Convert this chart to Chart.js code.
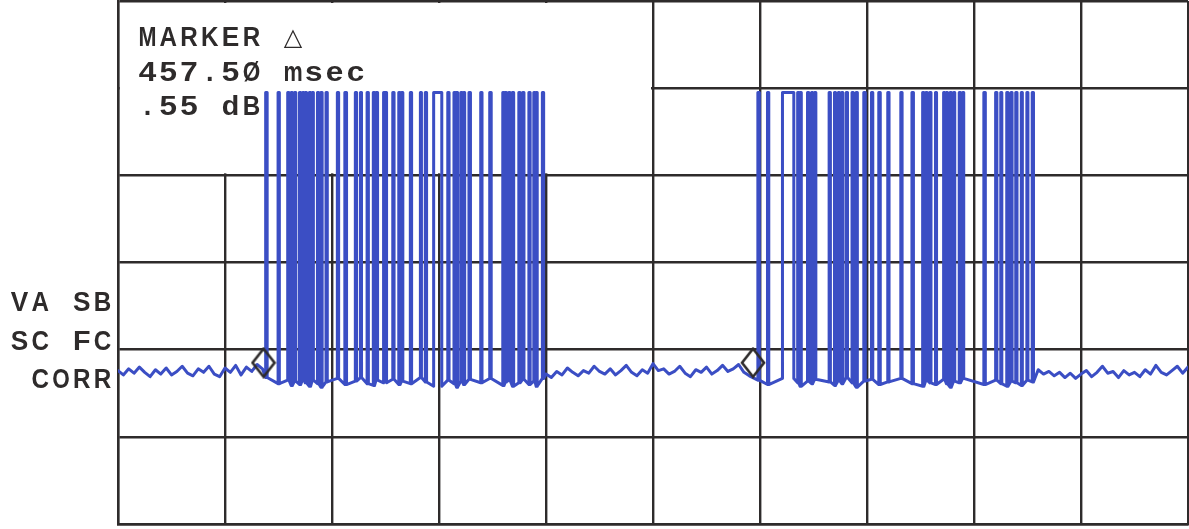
<!DOCTYPE html>
<html>
<head>
<meta charset="utf-8">
<script src="https://cdn.jsdelivr.net/npm/chart.js@4.4.1/dist/chart.umd.min.js"></script>
<style>
  html, body { margin: 0; padding: 0; background: #fff; }
  canvas { display: block; }
</style>
</head>
<body>
<canvas id="trace" width="1189" height="529"></canvas>
<script>
// ==================== DATA ====================
// sweep: 0..1000 msec (100 msec/div), amplitude in dB (10 dB/div, ref at top)
const X_MIN = 0, X_MAX = 1000, X_STEP = 100;
const Y_MIN = -60, Y_MAX = 0, Y_STEP = 10;

const PULSE_TOP = -10.5;

// noise floor segments, one sample every NOISE_STEP msec
const NOISE_STEP = 5;
const noiseAStart = 0;
const noiseA = [-42.4, -42.9, -42.2, -42.7, -42.0, -42.6, -43.1, -42.3, -42.8, -42.1,
                -42.9, -42.5, -41.9, -42.7, -43.0, -42.2, -42.6, -41.9, -42.8, -43.1,
                -42.1, -42.6, -41.8, -42.9, -42.0, -42.5, -41.7, -42.2];
const noiseBStart = 400;
const noiseB = [-42.8, -43.2, -42.5, -42.9, -42.1, -42.6, -43.0, -42.4, -42.7, -41.9,
                -42.5, -42.8, -42.2, -42.9, -42.4, -41.8, -42.6, -43.0, -42.3, -42.7,
                -41.6, -42.4, -42.2, -42.8, -42.5, -41.9, -42.7, -43.1, -42.3, -42.6,
                -42.0, -42.8, -42.4, -41.8, -42.5, -42.2, -41.7, -42.6, -43.0];
const noiseCStart = 860;
const noiseC = [-42.3, -42.8, -42.5, -43.0, -42.6, -43.2, -42.7, -43.3, -42.8, -42.4,
                -43.1, -42.6, -41.9, -42.7, -42.5, -43.2, -42.4, -42.9, -42.6, -43.1,
                -42.3, -42.8, -41.8, -42.6, -42.9, -42.4, -41.9, -42.7, -42.0];

// pulse bursts: on / off times (msec) and the level between pulses (dB)
const burst1On  = [138.0, 149.6, 158.6, 161.8, 165.0, 169.6, 172.6, 175.0, 178.8, 181.6,
                   186.4, 189.6, 194.4, 205.0, 212.0, 221.8, 226.6, 232.8, 238.6, 241.2,
                   248.2, 256.8, 262.4, 265.0, 273.2, 282.6, 287.2, 295.0, 308.2, 314.0,
                   316.4, 320.4, 323.0, 328.0, 339.0, 347.4, 359.6, 362.0, 365.2, 368.6,
                   374.6, 378.2, 384.0, 388.6, 390.8, 396.6];
const burst1Off = [139.4, 150.8, 159.8, 163.0, 166.2, 170.8, 173.6, 176.2, 180.0, 182.6,
                   187.6, 190.8, 195.6, 206.2, 213.6, 223.0, 227.6, 234.0, 239.8, 242.6,
                   251.0, 258.0, 263.6, 266.2, 274.4, 283.6, 288.4, 302.6, 309.4, 315.2,
                   317.4, 321.6, 324.0, 329.4, 340.2, 348.8, 360.8, 363.0, 366.4, 369.8,
                   375.8, 379.4, 385.2, 389.6, 391.8, 397.8];
const burst1Low = [-43.2, -43.9, -43.5, -44.1, -43.6, -44.0, -43.4, -43.8, -44.2, -43.5,
                   -43.9, -44.3, -43.7, -43.3, -44.0, -43.6, -43.2, -43.9, -44.1, -43.5,
                   -43.8, -43.4, -44.0, -43.6, -43.9, -43.2, -43.7, -44.2, -43.5, -43.9,
                   -44.3, -43.6, -44.0, -43.4, -43.8, -43.3, -44.1, -43.7, -43.5, -44.2,
                   -43.8, -43.4, -44.0, -43.6, -44.2, -43.3];
const burst2On  = [598.0, 607.0, 621.0, 635.2, 637.4, 644.4, 648.2, 651.0, 664.6, 669.6,
                   673.2, 676.4, 680.6, 686.0, 689.8, 697.0, 704.2, 711.0, 719.4, 731.6,
                   742.0, 752.0, 755.0, 758.6, 764.0, 771.6, 774.2, 777.6, 781.0, 786.2,
                   789.4, 809.2, 820.2, 825.0, 830.6, 834.6, 839.0, 844.2, 849.4, 854.4];
const burst2Off = [599.4, 608.2, 631.6, 636.2, 638.6, 645.6, 649.2, 652.2, 665.8, 670.6,
                   674.2, 677.4, 681.8, 687.2, 691.0, 698.4, 705.4, 712.4, 720.6, 732.8,
                   743.4, 753.2, 756.2, 759.8, 765.0, 772.6, 775.2, 778.8, 782.0, 787.4,
                   790.4, 810.6, 821.4, 826.0, 831.8, 835.6, 840.2, 845.2, 850.4, 855.6];
const burst2Low = [-43.5, -44.0, -43.3, -43.8, -44.2, -43.6, -43.9, -43.4, -43.7, -44.1,
                   -43.5, -43.9, -43.2, -43.8, -44.3, -43.6, -43.4, -44.0, -43.7, -43.3,
                   -43.9, -44.2, -43.5, -43.8, -44.0, -43.4, -43.9, -44.3, -43.6, -43.8,
                   -43.3, -44.0, -43.5, -43.9, -44.2, -43.6, -43.8, -44.1, -43.5, -43.7];

// delta markers
const markerX = [136.0, 593.5];
const markerY = [-41.5, -41.5];

// annotation text
const markerLines = ['MARKER \u25B3', '457.5\u00D8 msec', '.55 dB'];
const sideLines = ['VA SB', 'SC FC', 'CORR'];

// ==================== BUILD TRACE ====================
function noisePoints(start, vals) {
    return vals.map((v, i) => ({ x: start + i * NOISE_STEP, y: v }));
}

function burstPoints(on, off, low) {
    const pts = [];
    on.forEach((t, i) => {
        pts.push({ x: t, y: low[i] });
        pts.push({ x: t, y: PULSE_TOP });
        pts.push({ x: off[i], y: PULSE_TOP });
        pts.push({ x: off[i], y: low[i] });
    });
    return pts;
}

const tracePoints = [
    ...noisePoints(noiseAStart, noiseA),
    ...burstPoints(burst1On, burst1Off, burst1Low),
    ...noisePoints(noiseBStart, noiseB),
    ...burstPoints(burst2On, burst2Off, burst2Low),
    ...noisePoints(noiseCStart, noiseC)
];

// diamond marker image
const INK = '#2e2b2b';
const diamond = document.createElement('canvas');
diamond.width = 26;
diamond.height = 32;
(function() {
    const c = diamond.getContext('2d');
    c.strokeStyle = INK;
    c.lineWidth = 2.6;
    c.beginPath();
    c.moveTo(13, 2);
    c.lineTo(24, 16);
    c.lineTo(13, 30);
    c.lineTo(2, 16);
    c.closePath();
    c.stroke();
})();

// ==================== PLUGINS ====================
// blank the annotation box in the top-left of the graticule
const blankBox = {
    id: 'blankBox',
    beforeDatasetsDraw(chart) {
        const { ctx, scales: { x, y } } = chart;
        const l = x.getPixelForValue(0) + 2;
        const r = x.getPixelForValue(500) - 2;
        const t = y.getPixelForValue(0) + 2;
        const b = y.getPixelForValue(-20) - 2;
        ctx.save();
        ctx.fillStyle = '#fff';
        ctx.fillRect(l, t, r - l, b - t);
        ctx.restore();
    }
};

// plotter-like fixed pitch text
function drawMono(ctx, text, left, baseline, pitch) {
    for (let i = 0; i < text.length; i++) {
        const ch = text[i];
        if (ch === ' ') continue;
        const w = ctx.measureText(ch).width;
        let sx = 1;
        if (/[A-Za-z0-9\u00D8]/.test(ch)) sx = Math.min(1.3, Math.max(0.8, 17.5 / w));
        ctx.save();
        ctx.translate(left + i * pitch + pitch / 2, baseline);
        ctx.scale(sx, 1);
        ctx.fillText(ch, 0, 0);
        ctx.restore();
    }
}

const FONT = 'bold 27px "Liberation Sans", "DejaVu Sans", sans-serif';

const labels = {
    id: 'labels',
    afterDraw(chart) {
        const { ctx } = chart;
        const pitch = 20.8;
        ctx.save();
        ctx.fillStyle = INK;
        ctx.textAlign = 'center';
        ctx.textBaseline = 'alphabetic';
        ctx.font = FONT;
        const bases = [46, 81, 115];
        markerLines.forEach((s, i) => {
            if (s.indexOf('\u25B3') >= 0) {
                drawMono(ctx, s.replace('\u25B3', ''), 137, bases[i], pitch);
                ctx.font = 'bold 24px "DejaVu Sans", sans-serif';
                ctx.fillText('\u25B3', 137 + 7 * pitch + pitch / 2, bases[i] - 1);
                ctx.font = FONT;
            } else {
                drawMono(ctx, s, 137, bases[i], pitch);
            }
        });
        const sideBases = [311, 350, 388];
        sideLines.forEach((s, i) => {
            drawMono(ctx, s, 113 - s.length * pitch, sideBases[i], pitch);
        });
        ctx.restore();
    }
};

// ==================== CHART ====================
const gridStyle = {
    color: INK,
    lineWidth: 2.4,
    drawTicks: false
};

new Chart(document.getElementById('trace'), {
    type: 'line',
    data: {
        datasets: [
            {
                data: markerX.map((v, i) => ({ x: v, y: markerY[i] })),
                showLine: false,
                pointStyle: diamond,
                pointRadius: 1,
                order: 0
            },
            {
                data: tracePoints,
                borderColor: '#3b4ec4',
                borderWidth: 3,
                borderJoinStyle: 'round',
                borderCapStyle: 'round',
                pointRadius: 0,
                tension: 0,
                fill: false,
                order: 1
            }
        ]
    },
    options: {
        responsive: false,
        animation: false,
        events: [],
        layout: { autoPadding: false, padding: { left: 118, right: 1, top: 1, bottom: 5 } },
        plugins: {
            legend: { display: false },
            tooltip: { enabled: false }
        },
        scales: {
            x: {
                type: 'linear',
                min: X_MIN,
                max: X_MAX,
                ticks: { display: false, stepSize: X_STEP },
                grid: gridStyle,
                border: { display: true, color: INK, width: 2.4 }
            },
            y: {
                type: 'linear',
                min: Y_MIN,
                max: Y_MAX,
                ticks: { display: false, stepSize: Y_STEP },
                grid: gridStyle,
                border: { display: true, color: INK, width: 2.4 }
            }
        }
    },
    plugins: [blankBox, labels]
});
</script>
</body>
</html>
